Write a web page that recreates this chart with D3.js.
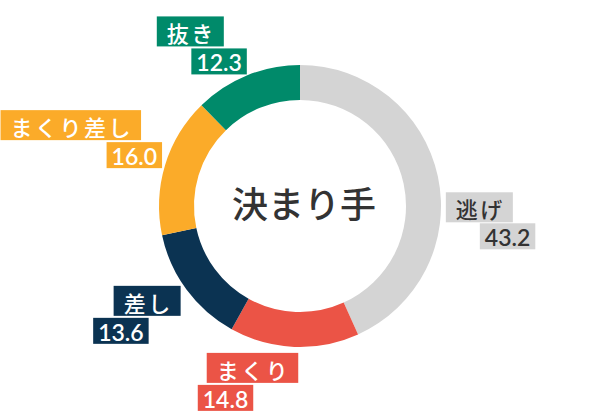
<!DOCTYPE html>
<html><head><meta charset="utf-8">
<script src="https://cdn.jsdelivr.net/npm/d3@7"></script>
<style>
html,body{margin:0;padding:0;background:#fff;}
svg{display:block;}
</style></head>
<body>
<svg id="chart" width="600" height="420"></svg>
<script>
const categories = ['逃げ', 'まくり', '差し', 'まくり差し', '抜き'];
const values = [43.2, 14.8, 13.6, 16.0, 12.3];
const valueLabels = ['43.2', '14.8', '13.6', '16.0', '12.3'];
const centerTitle = '決まり手';

const colors = ['#d4d4d4', '#eb5446', '#0b3352', '#fbab29', '#008a6a'];
const textColors = ['#333333', '#ffffff', '#ffffff', '#ffffff', '#ffffff'];
// label placement relative to the outer arc point at each slice's mid-angle
const labelLayout = [
  {align: 'start', nx: 8,   ny: 16,  vx: 42,  vy: 47},
  {align: 'end',   nx: 4,   ny: 6,   vx: -41, vy: 38},
  {align: 'end',   nx: -6,  ny: -4,  vx: -38, vy: 28},
  {align: 'end',   nx: -24, ny: -55, vx: -3,  vy: -23},
  {align: 'end',   nx: -23, ny: -59, vx: 0,   vy: -27}
];

const W = 600, H = 420, cx = 300, cy = 206;
const rOuter = 141, rInner = 106;
const svg = d3.select('#chart');
const g = svg.append('g').attr('transform', `translate(${cx},${cy})`);

const pie = d3.pie().sort(null).value(d => d.v);
const data = categories.map((c, i) => ({c, v: values[i], lab: valueLabels[i], i}));
const arcs = pie(data);
const arc = d3.arc().innerRadius(rInner).outerRadius(rOuter);

g.selectAll('path.slice').data(arcs).enter().append('path')
  .attr('class', 'slice')
  .attr('d', arc)
  .attr('fill', d => colors[d.data.i]);

g.append('text')
  .attr('x', 4).attr('y', -4)
  .attr('text-anchor', 'middle')
  .attr('dominant-baseline', 'central')
  .attr('font-family', '"Noto Sans CJK JP", sans-serif')
  .attr('font-size', 36)
  .attr('font-weight', 500)
  .attr('fill', '#333333')
  .text(centerTitle);

const nameH = 30, valH = 26, padN = 9, padV = 5;
arcs.forEach(a => {
  const i = a.data.i;
  const m = (a.startAngle + a.endAngle) / 2;
  const px = rOuter * Math.sin(m), py = -rOuter * Math.cos(m);
  const L = labelLayout[i];
  const lg = g.append('g');

  // name box
  const nt = lg.append('text')
    .attr('font-family', '"Noto Sans CJK JP", sans-serif')
    .attr('font-size', 22)
    .attr('font-weight', 500)
    .attr('letter-spacing', 2.5)
    .attr('fill', textColors[i])
    .attr('dominant-baseline', 'central')
    .text(a.data.c);
  const nw = nt.node().getComputedTextLength() + padN * 2;
  const nLeft = L.align === 'start' ? px + L.nx : px + L.nx - nw;
  const nTop = py + L.ny;
  lg.insert('rect', 'text')
    .attr('x', nLeft).attr('y', nTop).attr('width', nw).attr('height', nameH)
    .attr('fill', colors[i]);
  nt.attr('x', nLeft + padN + 1).attr('y', nTop + nameH / 2 + 1);

  // value box
  const vt = lg.append('text')
    .attr('font-family', 'Lato, sans-serif')
    .attr('font-size', 23)
    .attr('font-weight', 600)
    .attr('fill', textColors[i])
    .attr('dominant-baseline', 'central')
    .text(a.data.lab);
  const vw = vt.node().getComputedTextLength() + padV * 2;
  const vLeft = L.align === 'start' ? px + L.vx : px + L.vx - vw;
  const vTop = py + L.vy;
  lg.insert('rect', 'text')
    .attr('x', vLeft).attr('y', vTop).attr('width', vw).attr('height', valH)
    .attr('fill', colors[i]);
  vt.attr('x', vLeft + padV).attr('y', vTop + valH / 2 + 1);
});
</script>
</body></html>
